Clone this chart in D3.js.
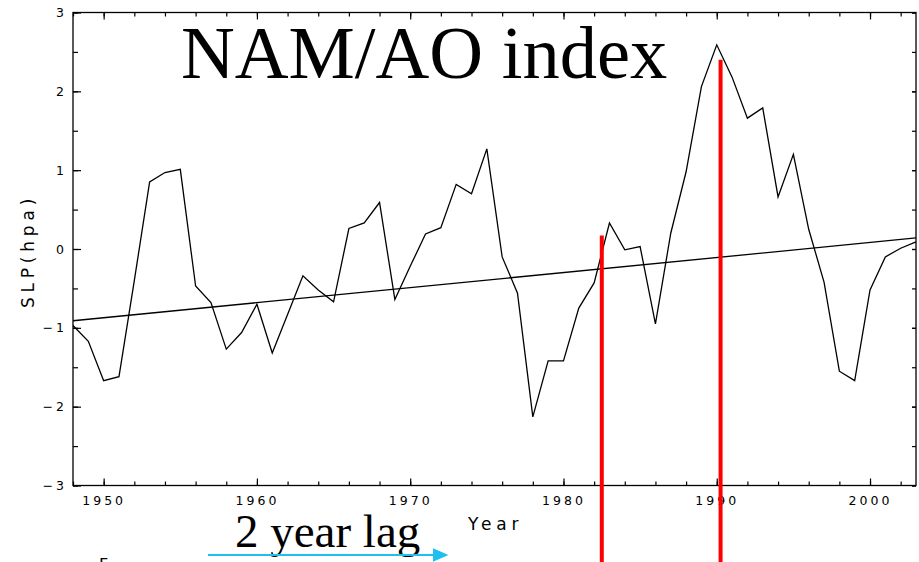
<!DOCTYPE html>
<html>
<head>
<meta charset="utf-8">
<script src="https://cdn.jsdelivr.net/npm/d3@7"></script>
<style>
  body { margin: 0; background: #fff; }
  .tick text { font-family: "DejaVu Sans", sans-serif; font-size: 12.5px; letter-spacing: 3px; fill: #000; }
  .tick line { stroke: #000; stroke-width: 1.2px; }
  .ax-title { font-family: "DejaVu Sans", sans-serif; font-size: 17px; letter-spacing: 4.8px; fill: #000; }
  .big { font-family: "Liberation Serif", "Times New Roman", serif; fill: #000; }
</style>
</head>
<body>
<div class="chart"></div>
<script>
var values = { width: 919, height: 562, left: 73, right: 916, top: 12.5, bottom: 485.5 };

// NAM/AO index, annual values
var years = d3.range(1948, 2004);
var slp = [
  -0.97, -1.17, -1.67, -1.62, -0.40, 0.85, 0.97, 1.01, -0.47, -0.68,
  -1.27, -1.06, -0.70, -1.32, -0.83, -0.34, -0.52, -0.67, 0.26, 0.33,
  0.59, -0.64, -0.22, 0.19, 0.27, 0.82, 0.70, 1.27, -0.10, -0.56,
  -2.13, -1.42, -1.42, -0.75, -0.43, 0.33, -0.01, 0.03, -0.95, 0.20,
  0.98, 2.06, 2.59, 2.18, 1.66, 1.79, 0.66, 1.20, 0.25, -0.42,
  -1.55, -1.67, -0.52, -0.10, 0.01, 0.09
];
// linear trend (end points)
var trendYears = [1948, 2003];
var trendValues = [-0.91, 0.14];
// red markers: year and top value
var markYears = [1982.5, 1990.25];
var markTops = [0.17, 2.4];

var xMajor = [1950, 1960, 1970, 1980, 1990, 2000];
var xMinor = d3.range(1948, 2004, 2);
var yMajor = [-3, -2, -1, 0, 1, 2, 3];
var yMinor = d3.range(-3, 3.01, 0.5);

var x = d3.scaleLinear().domain([1948, 2003]).range([values.left, values.right]);
var y = d3.scaleLinear().domain([-3, 3]).range([values.bottom, values.top]);

var svg = d3.select('.chart').append('svg')
  .attr('width', values.width)
  .attr('height', values.height);

// ticks (inward), minor first
function drawAxis(axis, tx, ty) {
  var g = svg.append('g').attr('transform', 'translate(' + tx + ',' + ty + ')').call(axis);
  g.select('.domain').remove();
  return g;
}
drawAxis(d3.axisBottom(x).tickValues(xMinor).tickSize(-4).tickFormat(''), 0, values.bottom);
drawAxis(d3.axisTop(x).tickValues(xMinor).tickSize(-4).tickFormat(''), 0, values.top);
drawAxis(d3.axisLeft(y).tickValues(yMinor).tickSize(-5).tickFormat(''), values.left, 0);
drawAxis(d3.axisRight(y).tickValues(yMinor).tickSize(-4).tickFormat(''), values.right, 0);

drawAxis(d3.axisBottom(x).tickValues(xMajor).tickSize(-7).tickPadding(11).tickFormat(d3.format('d')), 0, values.bottom);
drawAxis(d3.axisTop(x).tickValues(xMajor).tickSize(-7).tickFormat(''), 0, values.top);
drawAxis(d3.axisLeft(y).tickValues(yMajor).tickSize(-8).tickPadding(9).tickFormat(d3.format('d')), values.left, 0)
  .selectAll('text').attr('dx', '3px');
drawAxis(d3.axisRight(y).tickValues(yMajor).tickSize(-4).tickFormat(''), values.right, 0);

// frame
svg.append('rect')
  .attr('x', values.left).attr('y', values.top)
  .attr('width', values.right - values.left)
  .attr('height', values.bottom - values.top)
  .attr('fill', 'none').attr('stroke', '#000').attr('stroke-width', 1.3);

// trend line
svg.append('line')
  .attr('x1', x(trendYears[0])).attr('y1', y(trendValues[0]))
  .attr('x2', x(trendYears[1])).attr('y2', y(trendValues[1]))
  .attr('stroke', '#000').attr('stroke-width', 1.3);

// index series
var line = d3.line().x(function (d, i) { return x(years[i]); }).y(function (d) { return y(d); });
svg.append('path')
  .datum(slp)
  .attr('d', line)
  .attr('fill', 'none')
  .attr('stroke', '#000')
  .attr('stroke-width', 1.3)
  .attr('stroke-linejoin', 'miter');

// axis titles
svg.append('text')
  .attr('class', 'ax-title')
  .attr('transform', 'translate(34,251) rotate(-90)')
  .attr('text-anchor', 'middle')
  .text('SLP(hpa)');
svg.append('text')
  .attr('class', 'ax-title')
  .attr('x', 468).attr('y', 530)
  .text('Year');

// red markers
svg.selectAll('.mark')
  .data(markYears)
  .enter()
  .append('line')
  .attr('class', 'mark')
  .attr('x1', function (d) { return x(d); })
  .attr('x2', function (d) { return x(d); })
  .attr('y1', function (d, i) { return y(markTops[i]); })
  .attr('y2', values.height)
  .attr('stroke', '#ff0000')
  .attr('stroke-width', 4);

// title
svg.append('text')
  .attr('class', 'big')
  .attr('x', 181).attr('y', 78)
  .style('font-size', '74.5px')
  .text('NAM/AO index');

// lag annotation
svg.append('text')
  .attr('class', 'big')
  .attr('x', 235).attr('y', 547)
  .style('font-size', '47px')
  .text('2 year lag');

svg.append('line')
  .attr('x1', 208).attr('y1', 555).attr('x2', 436).attr('y2', 555)
  .attr('stroke', '#1ec0ee').attr('stroke-width', 2);
svg.append('path')
  .attr('d', 'M433,548.3 L448.5,555 L433,561.7 Z')
  .attr('fill', '#1ec0ee');

// stray glyph at bottom edge
svg.append('text')
  .attr('x', 99).attr('y', 570)
  .style('font-family', 'DejaVu Sans')
  .style('font-size', '16px')
  .text('F');
</script>
</body>
</html>
